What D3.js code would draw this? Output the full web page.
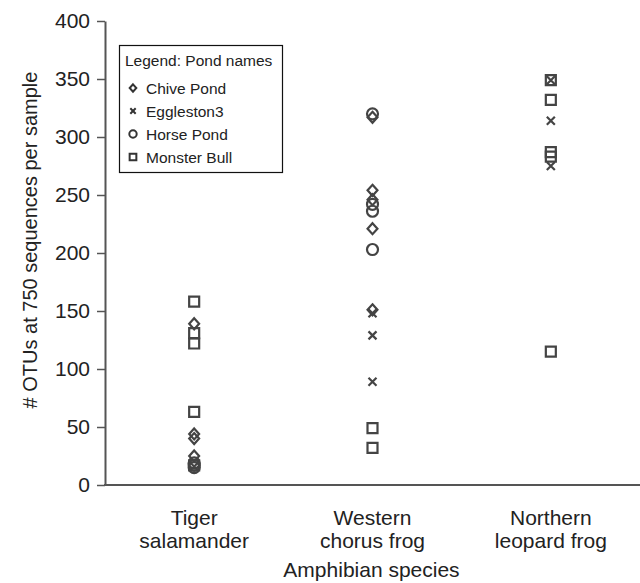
<!DOCTYPE html>
<html>
<head>
<meta charset="utf-8">
<script src="https://cdn.jsdelivr.net/npm/d3@7"></script>
<style>
  body { margin: 0; background: #fff; }
  text { font-family: "Liberation Sans", Arial, sans-serif; fill: #222; }
</style>
</head>
<body>
<svg width="640" height="583"></svg>
<script>
// categories and ponds
const species = ["Tiger salamander", "Western chorus frog", "Northern leopard frog"];
const speciesLines = [["Tiger", "salamander"], ["Western", "chorus frog"], ["Northern", "leopard frog"]];
const ponds = ["Chive Pond", "Eggleston3", "Horse Pond", "Monster Bull"];
const yTicks = [0, 50, 100, 150, 200, 250, 300, 350, 400];

// OTU counts per pond, one array per species
const chivePond   = [[139, 44, 40, 25], [317, 254, 246, 221, 151], []];
const eggleston3  = [[16], [148, 129, 89], [349, 314, 275]];
const horsePond   = [[19, 17, 15], [320, 242, 236, 203], []];
const monsterBull = [[158, 131, 122, 63, 17], [49, 32], [349, 332, 287, 283, 115]];

const pondValues = [chivePond, eggleston3, horsePond, monsterBull];

const svg = d3.select("svg"),
      width = +svg.attr("width"),
      height = +svg.attr("height"),
      margin = { top: 21, right: 0, bottom: 98, left: 105 };

const x = d3.scalePoint()
  .domain(species)
  .range([margin.left, width - margin.right])
  .padding(0.5);

const y = d3.scaleLinear()
  .domain([0, 400])
  .range([height - margin.bottom, margin.top]);

// marker shapes
const diamond = { draw(c, s) { const r = Math.sqrt(s) / 2; c.moveTo(0, -r); c.lineTo(r * 0.9, 0); c.lineTo(0, r); c.lineTo(-r * 0.9, 0); c.closePath(); } };
const cross = { draw(c, s) { const r = Math.sqrt(s) / 2; c.moveTo(-r, -r); c.lineTo(r, r); c.moveTo(r, -r); c.lineTo(-r, r); } };
const circle = { draw(c, s) { const r = Math.sqrt(s) / 2; c.moveTo(r, 0); c.arc(0, 0, r, 0, 2 * Math.PI); } };
const square = { draw(c, s) { const r = Math.sqrt(s) / 2; c.rect(-r, -r, 2 * r, 2 * r); } };
const shapes = [diamond, cross, circle, square];
const sizes = [121, 64, 121, 100];

const points = [];
pondValues.forEach((arr, p) => {
  arr.forEach((vals, s) => {
    vals.forEach(v => points.push({ pond: p, species: species[s], value: v }));
  });
});

// axes
const yAxis = svg.append("g")
  .attr("transform", `translate(${margin.left},0)`)
  .call(d3.axisLeft(y).tickValues(yTicks).tickSize(8).tickPadding(7).tickSizeOuter(0));
yAxis.select(".domain").attr("stroke", "#555").attr("stroke-width", 2);
yAxis.selectAll(".tick line").attr("stroke", "#555").attr("stroke-width", 1.5);
yAxis.selectAll(".tick text")
  .attr("font-size", "21px")
  .attr("fill", "#222")
  .attr("font-family", "Liberation Sans, Arial, sans-serif");

svg.append("line")
  .attr("x1", margin.left - 1)
  .attr("x2", width)
  .attr("y1", y(0))
  .attr("y2", y(0))
  .attr("stroke", "#555")
  .attr("stroke-width", 2);

// category labels
speciesLines.forEach((lines, i) => {
  const t = svg.append("text")
    .attr("text-anchor", "middle")
    .attr("font-size", "21px");
  lines.forEach((l, j) => {
    t.append("tspan")
      .attr("x", x(species[i]))
      .attr("y", y(0) + 40 + j * 23)
      .text(l);
  });
});

// axis titles
svg.append("text")
  .attr("x", (margin.left + width) / 2 - 1)
  .attr("y", height - 6)
  .attr("text-anchor", "middle")
  .attr("font-size", "21px")
  .text("Amphibian species");

svg.append("text")
  .attr("transform", "rotate(-90)")
  .attr("x", -240)
  .attr("y", 37)
  .attr("text-anchor", "middle")
  .attr("font-size", "20px")
  .text("# OTUs at 750 sequences per sample");

// points
svg.append("g")
  .selectAll("path")
  .data(points)
  .join("path")
  .attr("transform", d => `translate(${x(d.species)},${y(d.value)})`)
  .attr("d", d => d3.symbol(shapes[d.pond], sizes[d.pond])())
  .attr("fill", "none")
  .attr("stroke", "#444")
  .attr("stroke-width", 2.2);

// legend
const legend = svg.append("g").attr("transform", "translate(119,45)");
legend.append("rect")
  .attr("x", 0.5).attr("y", 0.5)
  .attr("width", 163).attr("height", 127)
  .attr("fill", "#fff")
  .attr("stroke", "#111")
  .attr("stroke-width", 1.2);
legend.append("text")
  .attr("x", 6).attr("y", 21)
  .attr("font-size", "15.5px")
  .text("Legend: Pond names");
ponds.forEach((name, i) => {
  const cy = 43 + i * 23;
  legend.append("path")
    .attr("transform", `translate(14,${cy})`)
    .attr("d", d3.symbol(shapes[i], sizes[i] * 0.45)())
    .attr("fill", "none")
    .attr("stroke", "#333")
    .attr("stroke-width", 2);
  legend.append("text")
    .attr("x", 27).attr("y", cy + 5.5)
    .attr("font-size", "15.5px")
    .text(name);
});
</script>
</body>
</html>
